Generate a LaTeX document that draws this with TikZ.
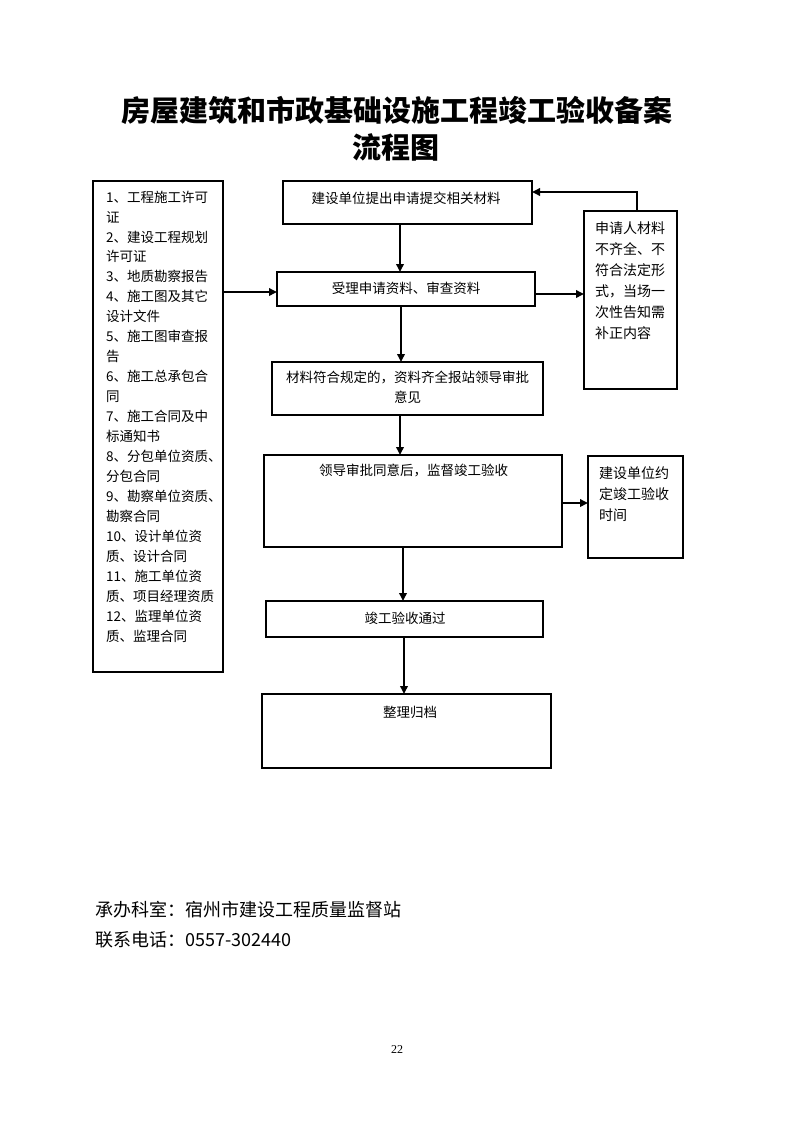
\documentclass[tikz,border=0pt]{standalone}
\usepackage{fontspec}
\newfontfamily\cjk{Noto Sans CJK SC}
\newfontfamily\pagenum{Liberation Serif}
\usetikzlibrary{arrows.meta}
\begin{document}
\begin{tikzpicture}[x=1pt,y=-1pt,
  box/.style={draw=black,line width=1.5pt,inner sep=0pt,outer sep=0pt},
  arr/.style={line width=1.8pt,-{Triangle[length=8pt,width=7.5pt]}},
  txt/.style={font=\cjk\fontsize{13.5pt}{16pt}\selectfont,inner sep=0pt},
  rtxt/.style={font=\cjk\fontsize{14pt}{16pt}\selectfont,inner sep=0pt,anchor=west},
  ttl/.style={font=\cjk\bfseries\fontsize{29pt}{32pt}\selectfont,inner sep=0pt},
  foot/.style={font=\cjk\fontsize{18pt}{20pt}\selectfont,inner sep=0pt,anchor=west}]
\useasboundingbox[fill=white] (0,0) rectangle (793,1122);

% title
\node[ttl] (t1) at (397,110) {房屋建筑和市政基础设施工程竣工验收备案};
\node[ttl] (t2) at (396,147) {流程图};

% boxes
\node[box,minimum width=249pt,minimum height=43pt] (A) at (407.5,202.5) {};
\node[box,minimum width=258pt,minimum height=34pt] (B) at (406,289) {};
\node[box,minimum width=271pt,minimum height=53pt] (C) at (407.5,388.5) {};
\node[box,minimum width=298pt,minimum height=92pt] (D) at (413,501) {};
\node[box,minimum width=277pt,minimum height=36pt] (E) at (404.5,619) {};
\node[box,minimum width=289pt,minimum height=74pt] (F) at (406.5,731) {};
\node[box,minimum width=130pt,minimum height=491pt] (L) at (158,426.5) {};
\node[box,minimum width=93pt,minimum height=178pt] (R1) at (630.5,300) {};
\node[box,minimum width=95pt,minimum height=102pt] (R2) at (635.5,507) {};

% box texts
\node[txt] (tA) at (406,198) {建设单位提出申请提交相关材料};
\node[txt] (tB) at (406,288) {受理申请资料、审查资料};
\node[txt] (tC1) at (407.5,377) {材料符合规定的，资料齐全报站领导审批};
\node[txt] (tC2) at (407.5,397) {意见};
\node[txt] (tD) at (413.5,470) {领导审批同意后，监督竣工验收};
\node[txt] (tE) at (405,618) {竣工验收通过};
\node[txt] (tF) at (410,712) {整理归档};

% left list
\foreach \t [count=\i] in {1、工程施工许可,证,2、建设工程规划,许可证,3、地质勘察报告,4、施工图及其它,设计文件,5、施工图审查报,告,6、施工总承包合,同,7、施工合同及中,标通知书,8、分包单位资质、,分包合同,9、勘察单位资质、,勘察合同,10、设计单位资,质、设计合同,11、施工单位资,质、项目经理资质,12、监理单位资,质、监理合同}
  \node[txt,anchor=west] (l\i) at (106,{197+(\i-1)*19.95}) {\t};

% right box 1
\foreach \t [count=\i] in {申请人材料,不齐全、不,符合法定形,式，当场一,次性告知需,补正内容}
  \node[rtxt] (r\i) at (595,{228+(\i-1)*21}) {\t};

% right box 2
\foreach \t [count=\i] in {建设单位约,定竣工验收,时间}
  \node[rtxt] (s\i) at (599,{473+(\i-1)*21}) {\t};

% connector helpers
\coordinate (x400) at (400,0);
\coordinate (x401) at (401,0);
\coordinate (x403) at (403,0);
\coordinate (x404) at (404,0);
\coordinate (y292) at (0,292);
\coordinate (y294) at (0,294);
\coordinate (y503) at (0,503);
\coordinate (k) at (637,192);

% connectors
\draw[arr] (A.south -| x400) -- (B.north -| x400);
\draw[arr] (B.south -| x401) -- (C.north -| x401);
\draw[arr] (C.south -| x400) -- (D.north -| x400);
\draw[arr] (D.south -| x403) -- (E.north -| x403);
\draw[arr] (E.south -| x404) -- (F.north -| x404);
\draw[arr] (L.east |- y292) -- (B.west |- y292);
\draw[arr] (B.east |- y294) -- (R1.west |- y294);
\draw[arr] (R1.north -| k) -- (k) -- (A.east |- k);
\draw[arr] (D.east |- y503) -- (R2.west |- y503);

% footer
\node[foot] (f1) at (95,910) {承办科室：宿州市建设工程质量监督站};
\node[foot] (f2) at (95,940) {联系电话：0557-302440};
\node[font=\pagenum\fontsize{12pt}{14pt}\selectfont,inner sep=0pt] (pg) at (397,1050) {22};
\end{tikzpicture}
\end{document}
